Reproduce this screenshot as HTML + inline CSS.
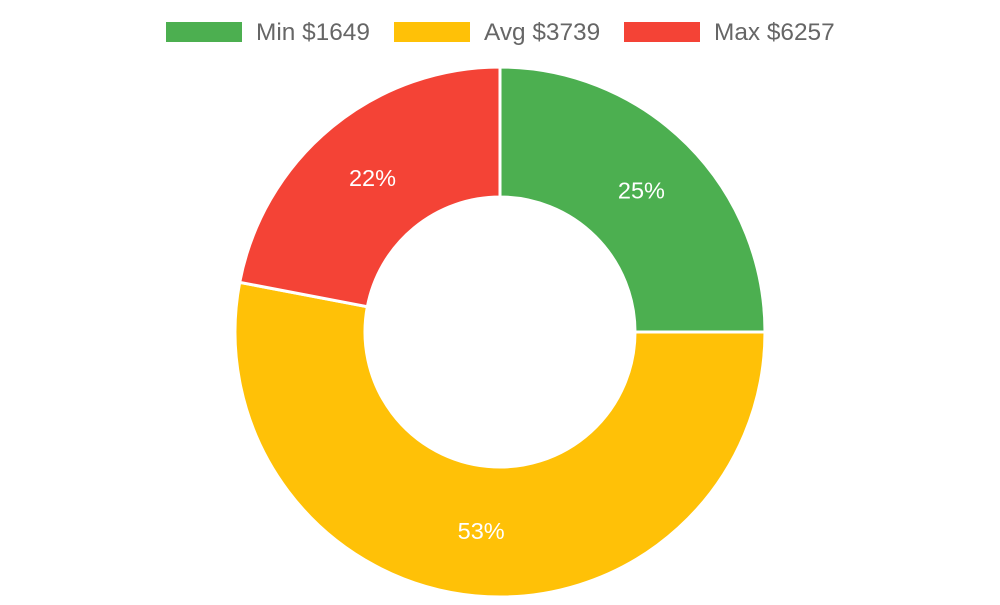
<!DOCTYPE html>
<html><head><meta charset="utf-8"><style>
body{margin:0;background:#fff;width:1000px;height:600px;overflow:hidden;font-family:"Liberation Sans",sans-serif}
</style></head><body>
<svg id="chart" width="1000" height="600"></svg>
<script>
const labels=["Min $1649","Avg $3739","Max $6257"];
const values=[25,53,22];
const colors=["#4caf50","#ffc107","#f44336"];
const svg=document.getElementById('chart');
const NS="http://www.w3.org/2000/svg";
const cx=500,cy=332,R=265,r=135;
const lx=[166,394,624];
labels.forEach((t,i)=>{
  const g=document.createElementNS(NS,'g');
  
  
  const b=document.createElementNS(NS,'rect');
  b.setAttribute('x',lx[i]);b.setAttribute('y',22);b.setAttribute('width',76);b.setAttribute('height',20);b.setAttribute('fill',colors[i]);
  const tx=document.createElementNS(NS,'text');
  tx.setAttribute('x',lx[i]+90);tx.setAttribute('y',40);tx.setAttribute('font-size',24.4);tx.setAttribute('fill','#666');
  tx.textContent=t;
  g.appendChild(b);g.appendChild(tx);svg.appendChild(g);
});
const total=values.reduce((a,b)=>a+b,0);
let a0=-Math.PI/2;
values.forEach((v,i)=>{
  const a1=a0+v/total*2*Math.PI;
  const large=(a1-a0)>Math.PI?1:0;
  const p=(rad,a)=>[cx+rad*Math.cos(a),cy+rad*Math.sin(a)];
  const [x0,y0]=p(R,a0),[x1,y1]=p(R,a1),[x2,y2]=p(r,a1),[x3,y3]=p(r,a0);
  const path=document.createElementNS(NS,'path');
  path.setAttribute('d',`M${x0},${y0}A${R},${R} 0 ${large} 1 ${x1},${y1}L${x2},${y2}A${r},${r} 0 ${large} 0 ${x3},${y3}Z`);
  path.setAttribute('fill',colors[i]);path.setAttribute('stroke','#fff');path.setAttribute('stroke-width',3);
  
  
  svg.appendChild(path);
  const am=(a0+a1)/2;const [lx2,ly2]=p((R+r)/2,am);
  const t=document.createElementNS(NS,'text');
  t.setAttribute('x',lx2);t.setAttribute('y',ly2+8);t.setAttribute('text-anchor','middle');
  t.setAttribute('font-size',23.5);t.setAttribute('fill','#fff');
  t.textContent=Math.round(v/total*100)+'%';
  
  
  svg.appendChild(t);
  a0=a1;
});
</script>
</body></html>
